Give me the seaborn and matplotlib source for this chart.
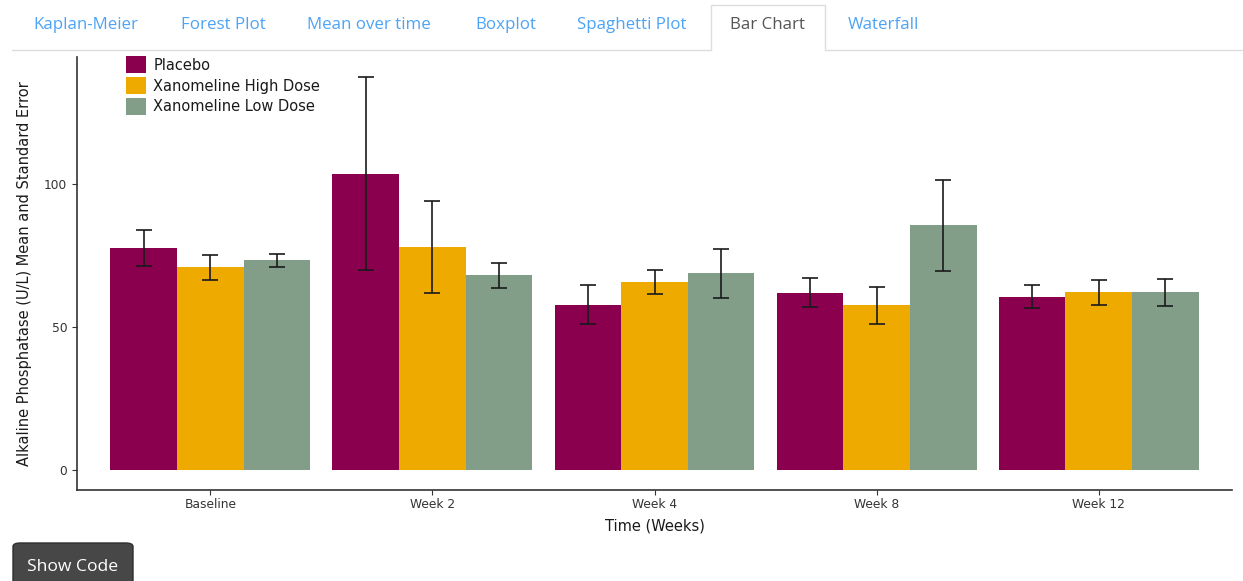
import numpy as np
import pandas as pd
import matplotlib
matplotlib.use("Agg")
import matplotlib.pyplot as plt
from matplotlib.patches import FancyBboxPatch, Rectangle
from matplotlib.lines import Line2D
import seaborn as sns

# Alkaline phosphatase summary by visit and treatment arm
visits = ["Baseline", "Week 2", "Week 4", "Week 8", "Week 12"]
arms = ["Placebo", "Xanomeline High Dose", "Xanomeline Low Dose"]
placebo_mean = [77.8, 103.6, 57.9, 62.0, 60.7]
placebo_se = [6.3, 33.8, 6.7, 5.1, 3.9]
high_mean = [70.9, 78.1, 65.7, 57.6, 62.2]
high_se = [4.3, 16.0, 4.2, 6.5, 4.4]
low_mean = [73.3, 68.1, 68.8, 85.6, 62.2]
low_se = [2.4, 4.3, 8.5, 15.9, 4.8]

arm_colors = ["#8A004F", "#EFAA00", "#829E88"]
tabs = ["Kaplan-Meier", "Forest Plot", "Mean over time", "Boxplot",
        "Spaghetti Plot", "Bar Chart", "Waterfall"]

df = pd.DataFrame({
    "visit": visits * 3,
    "arm": [a for a in arms for _ in visits],
    "mean": placebo_mean + high_mean + low_mean,
    "se": placebo_se + high_se + low_se,
})

sns.set_style("white")
plt.rcParams["font.family"] = ["DejaVu Sans"]

W, H = 1243, 581
fig = plt.figure(figsize=(W / 100, H / 100), dpi=100)

ax = fig.add_axes([77 / W, 1 - 490 / H, (1232 - 77) / W, (490 - 57) / H])
sns.barplot(data=df, x="visit", y="mean", hue="arm", order=visits,
            hue_order=arms, palette=arm_colors, errorbar=None,
            width=0.9, gap=0, saturation=1, linewidth=0, ax=ax, legend=False)

# standard error whiskers at each bar centre
for arm, bars in zip(arms, ax.containers):
    sub = df[df["arm"] == arm].set_index("visit").loc[visits]
    xs = [b.get_x() + b.get_width() / 2 for b in bars]
    ax.errorbar(xs, sub["mean"], yerr=sub["se"], fmt="none",
                ecolor="#1a1a1a", elinewidth=1.2, capsize=6, capthick=1.2,
                zorder=5)

ax.set_xlim(-0.6, 4.6)
ax.set_ylim(-6.9, 144.4)
ax.set_yticks([0, 50, 100])
ax.set_xlabel("Time (Weeks)", fontsize=10.5, color="#1a1a1a", labelpad=6)
ax.set_ylabel("Alkaline Phosphatase (U/L) Mean and Standard Error",
              fontsize=10.5, color="#1a1a1a", labelpad=9)
ax.tick_params(axis="both", labelsize=8.8, colors="#333333", length=3.5,
               width=0.8, direction="out", bottom=True, left=True)
ax.tick_params(axis="x", pad=2)
for side in ["top", "right"]:
    ax.spines[side].set_visible(False)
for side in ["left", "bottom"]:
    ax.spines[side].set_color("#333333")
    ax.spines[side].set_linewidth(1.2)

handles = [Rectangle((0, 0), 1, 1, facecolor=c, edgecolor="none")
           for c in arm_colors]
leg = ax.legend(handles, arms, loc="upper left",
                bbox_to_anchor=(0.037, 1.015), frameon=False, fontsize=10.5,
                handlelength=1.4, handleheight=1.4, handletextpad=0.5,
                labelspacing=0.28, borderaxespad=0)
for t in leg.get_texts():
    t.set_color("#1a1a1a")

# navigation tabs across the top
tab_x = [33, 181, 307, 475, 577, 730, 848]
for name, x in zip(tabs, tab_x):
    active = name == "Bar Chart"
    fig.text(x / W, 1 - 25 / H, name, fontsize=12.2, family="Open Sans",
             color="#555555" if active else "#4DA3F5", va="center", ha="left")
fig.add_artist(Line2D([12 / W, 711 / W], [1 - 49.5 / H] * 2, color="#dddddd",
                      lw=1, transform=fig.transFigure))
fig.add_artist(Line2D([825 / W, 1.0], [1 - 49.5 / H] * 2, color="#dddddd",
                      lw=1, transform=fig.transFigure))
fig.add_artist(Line2D([711 / W, 711 / W, 825 / W, 825 / W],
                      [1 - 50 / H, 1 - 5 / H, 1 - 5 / H, 1 - 50 / H],
                      color="#dddddd", lw=1, transform=fig.transFigure))

# code toggle button
btn = FancyBboxPatch((13 / W, -0.02), 120 / W, (581 - 543) / H + 0.02,
                     boxstyle="round,pad=0,rounding_size=0.006",
                     transform=fig.transFigure, facecolor="#474747",
                     edgecolor="#2e2e2e", lw=1)
fig.add_artist(btn)
fig.text(73 / W, 1 - 567 / H, "Show Code", fontsize=12.6, family="Open Sans",
         color="white", ha="center", va="center")

fig.savefig("out.png", dpi=100)
